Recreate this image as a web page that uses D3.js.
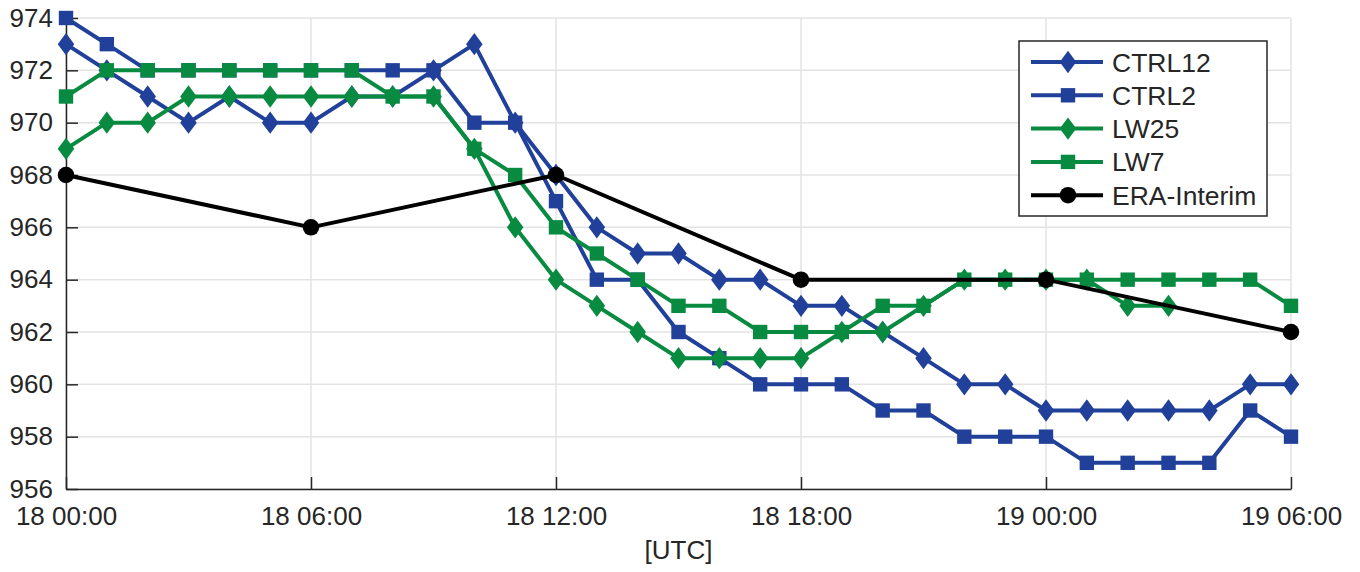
<!DOCTYPE html>
<meta charset="utf-8">
<style>
body { margin: 0; background: #fff; }
text { font-family: "Liberation Sans", Arial, sans-serif; fill: #262626; }
.grid line { stroke: #e3e3e3; stroke-width: 1.5; }
.axis path, .axis line { stroke: #262626; stroke-width: 1.5; }
</style>
<svg width="1360" height="572"></svg>
<script src="https://d3js.org/d3.v7.min.js"></script>
<script>

// hours since 18 00:00 UTC
var hours = d3.range(0, 31);
var eraHours = [0, 6, 12, 18, 24, 30];
var tickHours = [0, 6, 12, 18, 24, 30];
var tickLabels = ["18 00:00", "18 06:00", "18 12:00", "18 18:00", "19 00:00", "19 06:00"];
var yTicks = [956, 958, 960, 962, 964, 966, 968, 970, 972, 974];

var ctrl12 = [973, 972, 971, 970, 971, 970, 970, 971, 971, 972, 973, 970, 968, 966, 965, 965,
              964, 964, 963, 963, 962, 961, 960, 960, 959, 959, 959, 959, 959, 960, 960];
var ctrl2  = [974, 973, 972, 972, 972, 972, 972, 972, 972, 972, 970, 970, 967, 964, 964, 962,
              961, 960, 960, 960, 959, 959, 958, 958, 958, 957, 957, 957, 957, 959, 958];
var lw25   = [969, 970, 970, 971, 971, 971, 971, 971, 971, 971, 969, 966, 964, 963, 962, 961,
              961, 961, 961, 962, 962, 963, 964, 964, 964, 964, 963, 963];
var lw7    = [971, 972, 972, 972, 972, 972, 972, 972, 971, 971, 969, 968, 966, 965, 964, 963,
              963, 962, 962, 962, 963, 963, 964, 964, 964, 964, 964, 964, 964, 964, 963];
var era    = [968, 966, 968, 964, 964, 962];

var blue = "#21409a", green = "#098a41";

var series = [
  {name: "CTRL12", x: hours, y: ctrl12, color: blue, marker: "diamond"},
  {name: "CTRL2", x: hours, y: ctrl2, color: blue, marker: "square"},
  {name: "LW25", x: hours, y: lw25, color: green, marker: "diamond"},
  {name: "LW7", x: hours, y: lw7, color: green, marker: "square"},
  {name: "ERA-Interim", x: eraHours, y: era, color: "#000", marker: "circle"}
];

var svg = d3.select("svg"),
    margin = {top: 18, right: 69, bottom: 83, left: 66},
    width = +svg.attr("width") - margin.left - margin.right,
    height = +svg.attr("height") - margin.top - margin.bottom;

var x = d3.scaleLinear().domain([0, 30]).range([0, width]),
    y = d3.scaleLinear().domain([956, 974]).range([height, 0]);

var g = svg.append("g")
    .attr("transform", "translate(" + margin.left + "," + margin.top + ")");

// grid
g.append("g").attr("class", "grid")
  .selectAll("line").data(tickHours).enter().append("line")
    .attr("x1", function(d) { return x(d); }).attr("x2", function(d) { return x(d); })
    .attr("y1", 0).attr("y2", height);
g.append("g").attr("class", "grid")
  .selectAll("line").data(yTicks).enter().append("line")
    .attr("y1", function(d) { return y(d); }).attr("y2", function(d) { return y(d); })
    .attr("x1", 0).attr("x2", width);

// axes (ticks inside, matlab style)
g.append("g")
    .attr("class", "axis axis--x")
    .attr("transform", "translate(0," + height + ")")
    .call(d3.axisBottom(x).tickValues(tickHours)
      .tickFormat(function(d, i) { return tickLabels[i]; })
      .tickSizeInner(-12).tickSizeOuter(0).tickPadding(18))
    .call(function(a) {
      a.selectAll("text").attr("font-size", 26).attr("fill", "#262626").attr("font-family", null);
    });

g.append("g")
    .attr("class", "axis axis--y")
    .call(d3.axisLeft(y).tickValues(yTicks)
      .tickSizeInner(-12).tickSizeOuter(0).tickPadding(13))
    .call(function(a) {
      a.selectAll("text").attr("font-size", 26).attr("fill", "#262626").attr("font-family", null);
    });

g.append("text")
    .attr("x", width / 2)
    .attr("y", height + 70)
    .attr("text-anchor", "middle")
    .attr("font-size", 26)
    .text("[UTC]");

var symbols = {
  diamond: function(s) { return "M0," + (-s * 0.62) + "L" + (s * 0.46) + ",0L0," + (s * 0.62) + "L" + (-s * 0.46) + ",0Z"; },
  square: function(s) { var h = s * 0.4; return "M" + -h + "," + -h + "H" + h + "V" + h + "H" + -h + "Z"; },
  circle: function(s) { var r = s * 0.46; return "M" + r + ",0A" + r + "," + r + " 0 1,1 " + -r + ",0A" + r + "," + r + " 0 1,1 " + r + ",0Z"; }
};
var msize = 18;

var line = d3.line()
    .x(function(d) { return x(d[0]); })
    .y(function(d) { return y(d[1]); });

series.forEach(function(s) {
  var pts = s.y.map(function(v, i) { return [s.x[i], v]; });
  var sg = g.append("g");
  sg.append("path")
      .datum(pts)
      .attr("fill", "none")
      .attr("stroke", s.color)
      .attr("stroke-width", 4)
      .attr("stroke-linejoin", "round")
      .attr("d", line);
  sg.selectAll(".m").data(pts).enter().append("path")
      .attr("transform", function(d) { return "translate(" + x(d[0]) + "," + y(d[1]) + ")"; })
      .attr("d", symbols[s.marker](msize))
      .attr("fill", s.color);
});

// legend
var lg = svg.append("g").attr("transform", "translate(1019,41)");
lg.append("rect")
    .attr("width", 248).attr("height", 175)
    .attr("fill", "#fff").attr("stroke", "#262626").attr("stroke-width", 1.5);
series.forEach(function(s, i) {
  var row = lg.append("g").attr("transform", "translate(0," + (21 + i * 33.3) + ")");
  row.append("line").attr("x1", 12).attr("x2", 84)
      .attr("stroke", s.color).attr("stroke-width", 4);
  row.append("path").attr("transform", "translate(49,0)")
      .attr("d", symbols[s.marker](msize)).attr("fill", s.color);
  row.append("text").attr("x", 93).attr("dy", "0.36em")
      .attr("font-size", 26.5).attr("fill", "#000").text(s.name);
});

</script>
